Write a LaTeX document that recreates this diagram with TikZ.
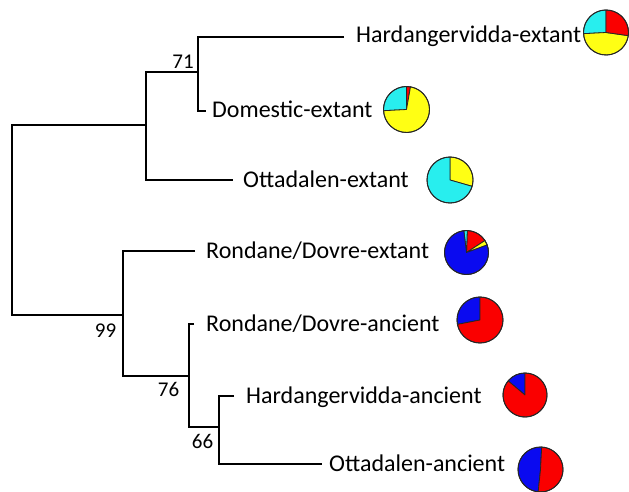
\documentclass[tikz,border=0pt]{standalone}
\usepackage{fontspec}
\setmainfont{Carlito}
\definecolor{pcyan}{RGB}{40,238,238}
\definecolor{pyellow}{RGB}{255,255,20}
\definecolor{pred}{RGB}{250,0,0}
\definecolor{pblue}{RGB}{10,10,240}
% one wedge of a pie: centre, colour, start angle, end angle, radius
\newcommand\pieslice[5]{%
  \filldraw[wedge, fill=#2, shift={(#1)}, yscale=-1]
    (0,0) -- (#3:#5) arc[start angle=#3, end angle=#4, radius=#5] -- cycle;}
\begin{document}
\begin{tikzpicture}[x=1pt, y=-1pt,
  branch/.style={line width=1.3pt, line join=miter},
  taxon/.style={anchor=base west, inner sep=0pt, font=\fontsize{24}{28}\selectfont},
  support/.style={inner sep=0pt, font=\fontsize{21}{25}\selectfont},
  wedge/.style={draw=black!85, line width=0.8pt, line join=round},
  rim/.style={draw=black!85, line width=0.9pt}]
\useasboundingbox (0,0) rectangle (629,492);

% internal nodes of the tree
\coordinate (rt) at (12,220);
\coordinate (nA) at (146,125);
\coordinate (nB) at (198,72);
\coordinate (nC) at (123,315);
\coordinate (nD) at (189,376);
\coordinate (nE) at (219,427);
% tips of the terminal branches
\coordinate (l1) at (344,37);
\coordinate (l2) at (206,111);
\coordinate (l3) at (233,180);
\coordinate (l4) at (195,251);
\coordinate (l5) at (194,324);
\coordinate (l6) at (234,396);
\coordinate (l7) at (322,464);

% branches
\draw[branch] (nA) -| (rt) |- (nC);
\draw[branch] (nB) -| (nA) |- (l3);
\draw[branch] (l1) -| (nB) |- (l2);
\draw[branch] (l4) -| (nC) |- (nD);
\draw[branch] (l5) -| (nD) |- (nE);
\draw[branch] (l6) -| (nE) |- (l7);

% bootstrap support
\node[support] (s71) at (183,62) {71};
\node[support] (s99) at (105.5,331) {99};
\node[support] (s76) at (168.5,389.5) {76};
\node[support] (s66) at (202.5,441.5) {66};

% taxon names
\node[taxon] (t1) at (356,43) {Hardangervidda-extant};
\node[taxon] (t2) at (212,118) {Domestic-extant};
\node[taxon] (t3) at (243,187) {Ottadalen-extant};
\node[taxon] (t4) at (206,258) {Rondane/Dovre-extant};
\node[taxon] (t5) at (206,331) {Rondane/Dovre-ancient};
\node[taxon] (t6) at (246,403) {Hardangervidda-ancient};
\node[taxon] (t7) at (329,471) {Ottadalen-ancient};

% pie charts of haplotype composition
\coordinate (p1) at (606,32.5);
\coordinate (p2) at (406.5,109.5);
\coordinate (p3) at (450,180);
\coordinate (p4) at (466.5,252.5);
\coordinate (p5) at (480,320);
\coordinate (p6) at (525,395);
\coordinate (p7) at (540.5,469.5);

\pieslice{p1}{pcyan}{90}{183}{22.5}
\pieslice{p1}{pyellow}{183}{352}{22.5}
\pieslice{p1}{pred}{-8}{90}{22.5}
\draw[rim] (p1) circle[radius=22.5];

\pieslice{p2}{pred}{80}{90}{23}
\pieslice{p2}{pcyan}{90}{183}{23}
\pieslice{p2}{pyellow}{183}{440}{23}
\draw[rim] (p2) circle[radius=23];

\pieslice{p3}{pyellow}{-16}{90}{23}
\pieslice{p3}{pcyan}{90}{344}{23}
\draw[rim] (p3) circle[radius=23];

\pieslice{p4}{pred}{33}{88}{22}
\pieslice{p4}{pyellow}{20}{33}{22}
\pieslice{p4}{pcyan}{88}{97}{22}
\pieslice{p4}{pblue}{97}{380}{22}
\draw[rim] (p4) circle[radius=22];

\pieslice{p5}{pblue}{90}{191}{23}
\pieslice{p5}{pred}{191}{450}{23}
\draw[rim] (p5) circle[radius=23];

\pieslice{p6}{pblue}{90}{140}{22}
\pieslice{p6}{pred}{140}{450}{22}
\draw[rim] (p6) circle[radius=22];

\pieslice{p7}{pblue}{87}{264}{22.5}
\pieslice{p7}{pred}{264}{447}{22.5}
\draw[rim] (p7) circle[radius=22.5];
\end{tikzpicture}
\end{document}
